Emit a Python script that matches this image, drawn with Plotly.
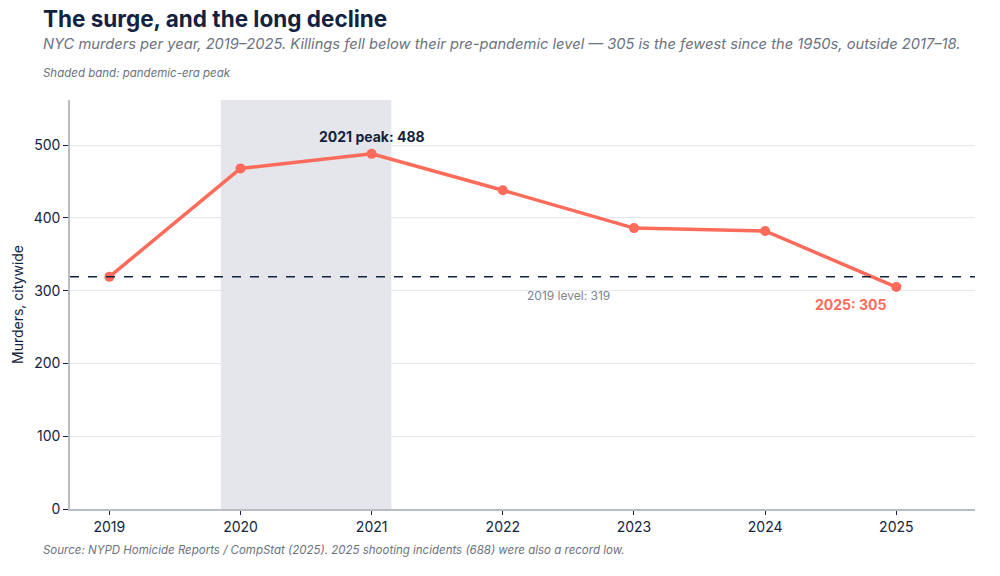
import plotly.graph_objects as go

years = [2019, 2020, 2021, 2022, 2023, 2024, 2025]
murders = [319, 468, 488, 438, 386, 382, 305]
baseline = 319
band_start, band_end = 2019.85, 2021.15

navy = "#13233f"
coral = "#ff6b5b"
gray = "#6b7280"
font = "Inter"

fig = go.Figure()

fig.add_vrect(x0=band_start, x1=band_end, fillcolor="#e4e6eb", opacity=1,
              line_width=0, layer="below")

fig.add_hline(y=baseline, line=dict(color=navy, width=1.5, dash="dash"))

fig.add_trace(go.Scatter(x=years, y=murders, mode="lines+markers",
                         line=dict(color=coral, width=3.5),
                         marker=dict(color=coral, size=10),
                         hoverinfo="x+y", showlegend=False))

fig.add_annotation(x=2021, y=488, text="<b>2021 peak: 488</b>", showarrow=False,
                   yshift=17, font=dict(family=font, size=14, color=navy))
fig.add_annotation(x=2024.65, y=305, text="<b>2025: 305</b>", showarrow=False,
                   yshift=-17, font=dict(family=font, size=14, color=coral))
fig.add_annotation(x=2022.5, y=baseline, text="2019 level: 319", showarrow=False,
                   yshift=-19, font=dict(family=font, size=12, color="#7b8494"))

# header and footer text
head_x = -0.029
fig.add_annotation(xref="paper", yref="paper", x=head_x, y=1.0, yanchor="middle",
                   xanchor="left", xshift=-3, yshift=82, showarrow=False,
                   text="<b>The surge, and the long decline</b>",
                   font=dict(family=font, size=22.5, color=navy))
fig.add_annotation(xref="paper", yref="paper", x=head_x, y=1.0, yanchor="middle",
                   xanchor="left", xshift=-3, yshift=56, showarrow=False,
                   text="<i>NYC murders per year, 2019–2025. Killings fell below their pre-pandemic level — 305 is the fewest since the 1950s, outside 2017–18.</i>",
                   font=dict(family=font, size=14.7, color=gray))
fig.add_annotation(xref="paper", yref="paper", x=head_x, y=1.0, yanchor="middle",
                   xanchor="left", xshift=-3, yshift=27, showarrow=False,
                   text="<i>Shaded band: pandemic-era peak</i>",
                   font=dict(family=font, size=11.5, color=gray))
fig.add_annotation(xref="paper", yref="paper", x=head_x, y=0, yanchor="middle",
                   xanchor="left", xshift=-3, yshift=-41, showarrow=False,
                   text="<i>Source: NYPD Homicide Reports / CompStat (2025). 2025 shooting incidents (688) were also a record low.</i>",
                   font=dict(family=font, size=11.5, color=gray))

fig.update_layout(
    width=1000, height=576,
    margin=dict(l=70, r=25, t=100, b=67),
    paper_bgcolor="white", plot_bgcolor="white",
    font=dict(family=font, color=navy),
    xaxis=dict(range=[2018.7, 2025.6], tickvals=years, showgrid=False,
               showline=True, linecolor="#b8bcc4", linewidth=1.5,
               ticks="outside", ticklen=4, tickcolor=navy,
               tickfont=dict(size=14, color=navy), zeroline=False),
    yaxis=dict(range=[0, 562], tickvals=[0, 100, 200, 300, 400, 500],
               showgrid=True, gridcolor="#e3e7ec", gridwidth=1,
               showline=True, linecolor="#b8bcc4", linewidth=1.5,
               ticks="outside", ticklen=5, tickcolor=navy,
               tickfont=dict(size=14, color=navy), zeroline=False,
               title=dict(text="Murders, citywide", font=dict(size=14, color=navy),
                          standoff=7)),
)

fig.write_html("out.html", config={"displayModeBar": False},
               post_script="document.body.style.margin='0';")
